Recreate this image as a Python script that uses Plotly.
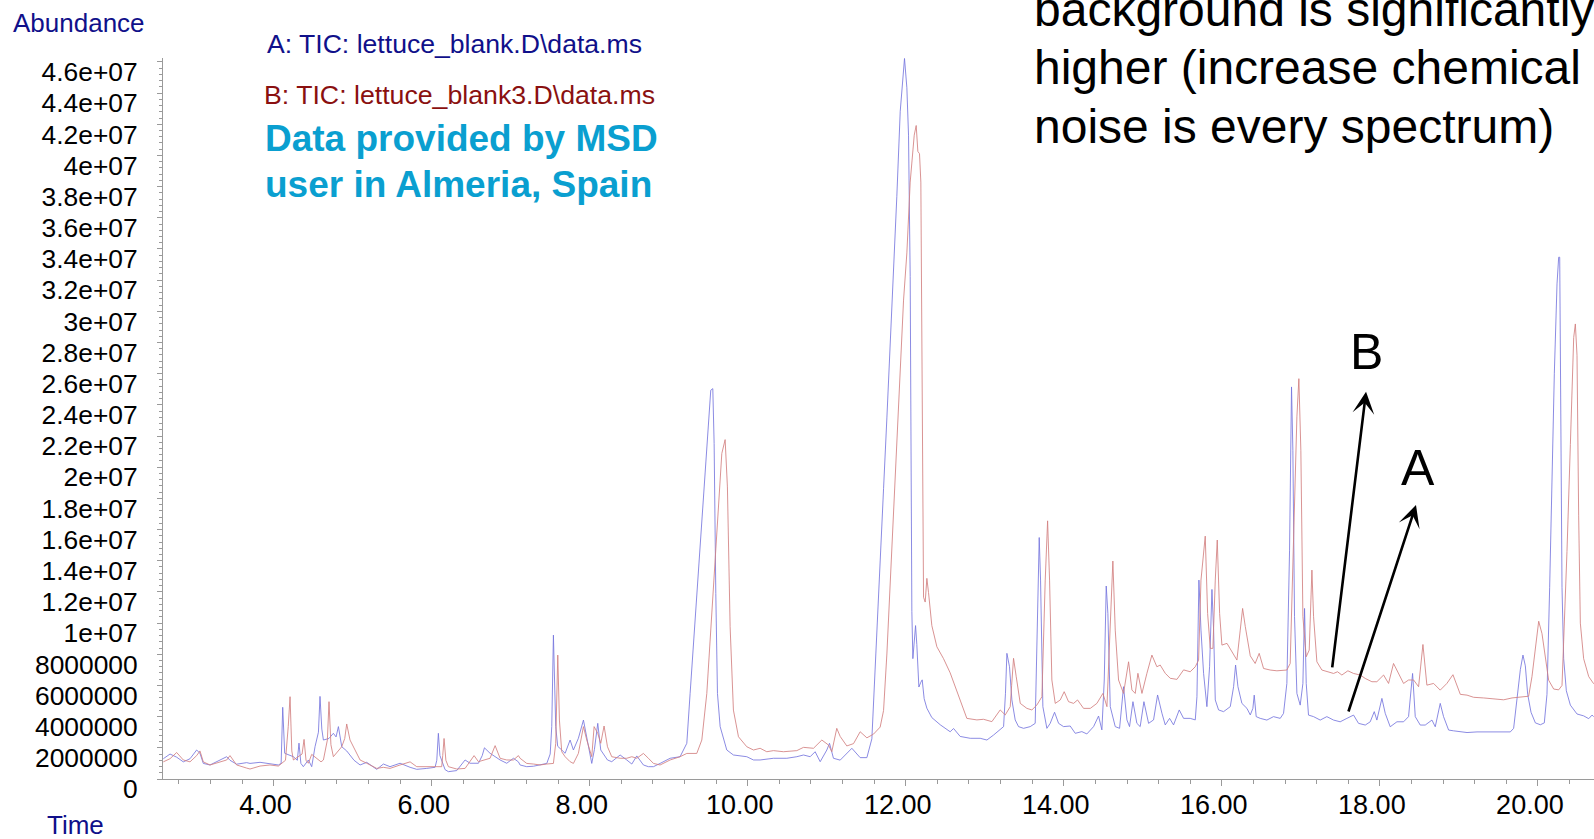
import plotly.graph_objects as go

# Retention time (min) and abundance (millions of counts) for run A: lettuce_blank
time_a = [
    2.604, 2.689, 2.773, 2.857, 2.942, 3.026, 3.068, 3.110, 3.195, 3.279,
    3.406, 3.448, 3.532, 3.659, 3.701, 3.828, 3.954, 4.060, 4.095, 4.115,
    4.140, 4.250, 4.300, 4.321, 4.345, 4.376, 4.440, 4.482, 4.524, 4.567,
    4.587, 4.610, 4.630, 4.700, 4.756, 4.790, 4.820, 4.862, 4.925, 4.967,
    5.018, 5.094, 5.178, 5.305, 5.389, 5.473, 5.600, 5.727, 5.811, 5.938,
    6.043, 6.065, 6.085, 6.105, 6.127, 6.170, 6.212, 6.317, 6.423, 6.486,
    6.592, 6.640, 6.668, 6.739, 6.866, 6.950, 7.035, 7.098,
    7.119, 7.203, 7.288, 7.372, 7.457, 7.500, 7.520, 7.541, 7.570, 7.595,
    7.617, 7.646, 7.689, 7.752, 7.794, 7.857, 7.921, 7.963, 8.026, 8.060,
    8.102, 8.140, 8.182, 8.225, 8.279, 8.385, 8.469, 8.533, 8.596, 8.680,
    8.743, 8.807, 8.891, 9.018, 9.144, 9.229, 9.271, 9.355, 9.440, 9.503,
    9.532, 9.558, 9.575, 9.596, 9.617, 9.651, 9.735, 9.819, 9.988, 10.073,
    10.157, 10.326, 10.495, 10.621, 10.706, 10.790, 10.853, 10.917, 11.001, 11.035,
    11.085, 11.170, 11.254, 11.318, 11.423, 11.508, 11.571, 11.592, 11.634, 11.676,
    11.719, 11.761, 11.803, 11.845, 11.887, 11.930, 11.972, 11.984, 12.014, 12.035,
    12.056, 12.065, 12.077, 12.090, 12.107, 12.124, 12.140, 12.166, 12.191, 12.208,
    12.233, 12.267, 12.330, 12.436, 12.562, 12.605, 12.689,
    12.773, 12.816, 12.942, 13.027, 13.111, 13.195, 13.238, 13.262, 13.280, 13.313,
    13.343, 13.385, 13.427, 13.491, 13.575, 13.638, 13.668, 13.689, 13.706, 13.735,
    13.786, 13.828, 13.883, 13.934, 13.997, 14.081, 14.145, 14.229, 14.292, 14.377,
    14.440, 14.482, 14.512, 14.537, 14.558, 14.588, 14.651, 14.706, 14.756, 14.799,
    14.832, 14.875, 14.925, 14.967, 15.014, 15.073, 15.136, 15.187, 15.242, 15.284,
    15.339, 15.389, 15.461, 15.516, 15.600, 15.664, 15.685, 15.710, 15.736, 15.769,
    15.811, 15.845, 15.875, 15.896, 15.917, 15.959, 16.022, 16.107, 16.149, 16.174,
    16.204, 16.254, 16.318, 16.360,
    16.393, 16.410, 16.435, 16.486, 16.570, 16.654, 16.739, 16.781, 16.823, 16.857,
    16.882, 16.899, 16.920, 16.950, 16.992, 17.026, 17.047, 17.068, 17.097, 17.161,
    17.245, 17.329, 17.414, 17.498, 17.583, 17.667, 17.730, 17.815, 17.878, 17.929,
    17.962, 18.026, 18.068, 18.131, 18.216, 18.300, 18.363, 18.414, 18.448, 18.511,
    18.574, 18.659, 18.701, 18.764, 18.806, 18.870,
    18.934, 19.018, 19.103, 19.229, 19.356, 19.482, 19.567, 19.651, 19.693, 19.735,
    19.778, 19.811, 19.841, 19.871, 19.913, 19.968, 20.031, 20.081, 20.115, 20.149,
    20.178, 20.208, 20.242, 20.263, 20.276, 20.292, 20.305, 20.326, 20.360, 20.411,
    20.495, 20.579, 20.643, 20.685, 20.706,
]
abund_a = [
    1.30, 1.60, 1.40, 1.10, 1.30, 1.86, 1.65, 1.00, 0.90, 1.10,
    1.43, 1.20, 0.95, 1.05, 1.00, 1.07, 1.00, 0.90, 1.00, 4.60,
    1.65, 1.43, 1.20, 2.30, 1.00, 0.79, 1.22, 0.79, 2.07, 3.00,
    5.30, 3.20, 2.50, 2.60, 2.93, 2.70, 3.36, 2.07, 1.80, 1.54,
    1.20, 0.90, 1.07, 0.62, 0.96, 0.79, 1.01, 0.75, 0.62, 0.68,
    0.75, 1.20, 2.93, 1.50, 1.22, 0.60, 0.47, 0.54, 1.22, 1.01,
    1.01, 1.50, 2.00, 1.65, 1.22, 1.01, 1.33, 1.10,
    0.90, 0.79, 0.82, 0.90, 1.00, 1.60, 3.36, 9.23, 3.36, 2.10,
    1.97, 1.86, 1.65, 2.50, 1.86, 2.61, 3.78, 2.71, 1.00, 1.90,
    3.57, 1.86, 1.50, 1.22, 1.11, 1.54, 1.22, 0.96, 1.48, 0.90,
    0.79, 0.79, 1.00, 1.33, 1.43, 2.29, 5.49, 11.90, 18.31, 22.59,
    24.94, 25.04, 21.52, 11.90, 5.49, 3.36, 1.86, 1.54, 1.43, 1.22,
    1.22, 1.33, 1.33, 1.43, 1.54, 1.43, 1.75, 1.11, 1.86, 2.29,
    1.33, 1.21, 1.67, 1.97, 1.37, 1.37, 2.58, 5.00, 9.54, 14.08,
    18.62, 23.16, 27.70, 32.24, 37.38, 42.83, 45.86, 46.22, 44.34, 41.30,
    32.24, 17.10, 10.75, 7.72, 8.63, 9.84, 8.63, 5.90, 6.21, 6.36,
    5.15, 4.54, 3.94, 3.48, 3.03, 3.24, 2.73,
    2.65, 2.61, 2.61, 2.50, 2.82, 3.15, 3.36, 5.50, 8.06, 7.20,
    5.07, 3.79, 3.36, 3.25, 3.36, 3.57, 10.20, 15.49, 12.76, 4.64,
    3.25, 3.57, 4.28, 3.57, 3.36, 3.40, 2.93, 3.04, 2.89, 3.36,
    4.04, 3.15, 6.35, 12.38, 10.62, 4.64, 3.36, 3.25, 5.92, 3.79,
    3.36, 4.96, 3.57, 3.36, 4.96, 3.57, 3.79, 5.39, 4.22, 3.47,
    3.89, 3.47, 4.43, 3.89, 3.89, 3.79, 5.28, 12.76, 9.55, 6.78,
    4.64, 7.20, 12.16, 9.55, 5.07, 4.43, 4.32, 4.64, 5.92, 7.31,
    5.92, 4.85, 4.53, 4.11,
    4.53, 5.38, 4.00, 3.89, 3.78, 4.00, 3.89, 4.21, 6.13, 14.68,
    25.15, 21.09, 10.41, 5.49, 4.74, 6.13, 10.94, 6.13, 4.10, 4.00,
    3.78, 4.00, 3.78, 3.67, 3.89, 4.10, 3.57, 3.46, 3.67, 4.32,
    3.78, 5.17, 4.21, 3.35, 3.67, 3.67, 4.00, 6.77, 4.00, 3.46,
    3.46, 3.78, 3.35, 4.85, 4.00, 3.14,
    3.09, 3.02, 2.98, 3.02, 3.02, 2.98, 3.02, 3.02, 3.25, 4.97,
    7.03, 7.95, 7.26, 5.43, 4.28, 3.60, 3.48, 3.60, 5.43, 12.30,
    19.16, 26.03, 31.76, 33.47, 33.47, 23.74, 12.30, 7.72, 5.66, 4.74,
    4.17, 4.05, 3.87, 4.10, 4.00,
]

# Retention time (min) and abundance (millions of counts) for run B: lettuce_blank3
time_b = [
    2.604, 2.689, 2.773, 2.857, 2.942, 3.026, 3.068, 3.110, 3.195, 3.279,
    3.406, 3.448, 3.532, 3.659, 3.701, 3.828, 3.954, 4.060, 4.150, 4.185,
    4.208, 4.230, 4.250, 4.360, 4.385, 4.410, 4.440, 4.482, 4.600, 4.630,
    4.680, 4.701, 4.725, 4.756, 4.862, 4.900, 4.925, 4.967, 5.018, 5.060,
    5.094, 5.178, 5.305, 5.389, 5.473, 5.600, 5.727, 5.811, 5.938, 6.043,
    6.127, 6.140, 6.157, 6.180, 6.212, 6.317, 6.423, 6.537, 6.592, 6.739,
    6.803, 6.866, 6.950, 7.035, 7.098,
    7.119, 7.203, 7.288, 7.372, 7.457, 7.541, 7.570, 7.596, 7.617, 7.646,
    7.689, 7.752, 7.794, 7.857, 7.921, 7.963, 8.026, 8.056, 8.102, 8.140,
    8.182, 8.225, 8.279, 8.385, 8.469, 8.533, 8.596, 8.680, 8.743, 8.807,
    8.891, 9.018, 9.144, 9.229, 9.355, 9.419, 9.482, 9.545, 9.608, 9.672,
    9.714, 9.743, 9.777, 9.819, 9.883, 9.988, 10.073, 10.157, 10.241, 10.326,
    10.452, 10.621, 10.706, 10.832, 10.938, 11.022, 11.064, 11.127,
    11.170, 11.254, 11.339, 11.423, 11.508, 11.592, 11.676, 11.719, 11.761, 11.803,
    11.845, 11.887, 11.930, 11.972, 12.014, 12.056, 12.107, 12.132, 12.153, 12.174,
    12.191, 12.204, 12.216, 12.225, 12.246, 12.267, 12.288, 12.330, 12.394, 12.478,
    12.562, 12.647, 12.731,
    12.773, 12.900, 12.984, 13.090, 13.195, 13.259, 13.322, 13.340, 13.364, 13.398,
    13.449, 13.533, 13.596, 13.660, 13.723, 13.765, 13.795, 13.820, 13.849, 13.892,
    13.955, 14.005, 14.060, 14.124, 14.174, 14.250, 14.335, 14.419, 14.495, 14.546,
    14.588, 14.621, 14.651, 14.693, 14.756, 14.820, 14.862, 14.904, 14.938, 14.989,
    15.052, 15.115, 15.178, 15.220, 15.284, 15.347, 15.432, 15.516, 15.600, 15.664,
    15.706, 15.736, 15.790, 15.820, 15.854, 15.887, 15.917, 15.942, 15.972, 16.001,
    16.065, 16.128, 16.191, 16.233, 16.263, 16.297, 16.360,
    16.422, 16.473, 16.528, 16.612, 16.697, 16.823, 16.865, 16.908, 16.950, 16.975,
    17.000, 17.026, 17.068, 17.106, 17.140, 17.161, 17.203, 17.266, 17.351, 17.414,
    17.464, 17.519, 17.595, 17.667, 17.751, 17.815, 17.899, 17.962, 18.047, 18.110,
    18.173, 18.237, 18.300, 18.363, 18.427, 18.490, 18.545, 18.595, 18.680, 18.764,
    18.848, 18.925, 18.976, 19.018, 19.103, 19.187, 19.314, 19.440, 19.567, 19.672,
    19.778, 19.883, 19.925, 19.976, 20.010, 20.052, 20.094, 20.136, 20.200, 20.263,
    20.305, 20.335, 20.368, 20.411, 20.453, 20.474, 20.495, 20.516, 20.537, 20.579,
    20.643, 20.706,
]
abund_b = [
    1.10, 1.30, 1.70, 1.22, 1.10, 1.50, 1.80, 1.10, 0.90, 1.01,
    1.22, 1.50, 0.90, 0.70, 0.64, 0.83, 0.90, 0.83, 1.20, 3.36,
    5.28, 1.80, 1.22, 1.60, 2.54, 1.20, 1.01, 1.58, 1.10, 1.22,
    2.50, 4.96, 2.20, 1.43, 2.07, 2.60, 3.53, 2.50, 1.97, 1.60,
    1.22, 1.01, 0.68, 0.75, 0.68, 0.90, 1.10, 0.79, 0.79, 0.75,
    0.79, 1.50, 2.60, 1.20, 0.79, 0.64, 0.68, 1.50, 1.11, 1.33,
    2.14, 1.33, 1.22, 1.22, 1.50,
    1.33, 1.00, 0.96, 0.90, 0.96, 1.00, 2.29, 7.95, 3.78, 1.75,
    1.43, 1.11, 1.00, 1.64, 3.36, 2.50, 1.43, 3.36, 2.93, 2.29,
    3.40, 2.07, 1.43, 1.33, 1.33, 1.43, 1.33, 1.64, 1.33, 1.00,
    0.90, 1.22, 1.43, 1.64, 1.64, 2.50, 5.49, 10.83, 16.18, 20.88,
    21.77, 18.74, 9.77, 4.42, 2.71, 2.07, 1.86, 1.97, 1.75, 1.82,
    1.75, 1.82, 2.03, 1.97, 2.50, 2.18, 1.75, 3.25,
    2.73, 2.12, 2.27, 3.03, 2.64, 2.88, 3.33, 4.39, 8.02, 12.56,
    17.10, 21.64, 26.18, 30.72, 33.75, 38.29, 41.30, 41.92, 40.26, 40.11,
    38.29, 29.21, 17.10, 11.66, 11.35, 12.87, 11.96, 9.84, 8.48, 7.72,
    6.81, 5.60, 4.39,
    3.89, 3.79, 3.83, 3.68, 4.43, 4.11, 4.64, 6.00, 7.74, 6.56,
    4.85, 4.53, 4.43, 4.75, 5.28, 12.76, 16.56, 12.76, 6.35, 4.85,
    5.07, 5.60, 4.96, 4.85, 5.07, 4.53, 4.53, 4.85, 5.49, 4.64,
    10.62, 13.98, 9.55, 6.35, 5.49, 7.52, 5.71, 5.49, 6.78, 5.49,
    6.78, 7.95, 7.20, 7.31, 6.78, 6.46, 6.39, 7.00, 6.88, 7.20,
    7.63, 12.76, 15.58, 10.62, 8.38, 8.38, 12.76, 15.33, 10.62, 8.59,
    8.70, 8.17, 7.63, 9.55, 10.94, 9.77, 7.90,
    7.41, 8.06, 7.09, 6.99, 6.94, 6.99, 7.41, 14.68, 23.23, 25.68,
    21.09, 10.41, 7.84, 8.27, 13.40, 10.41, 7.52, 6.99, 6.88, 6.77,
    6.88, 6.67, 6.94, 6.77, 6.67, 6.45, 6.24, 6.24, 6.67, 6.13,
    7.41, 6.77, 6.13, 6.35, 6.35, 5.92, 8.63, 6.02, 6.13, 5.70,
    6.13, 6.69, 6.00, 5.43, 5.38, 5.24, 5.20, 5.15, 5.08, 5.20,
    5.24, 5.31, 6.57, 8.86, 10.12, 9.32, 7.72, 6.34, 5.77, 5.72,
    6.00, 10.00, 14.59, 21.45, 28.32, 29.19, 27.18, 16.88, 10.00, 7.72,
    6.57, 6.11,
]

# Axis ticks
x_tick_vals = [4, 6, 8, 10, 12, 14, 16, 18, 20]
x_tick_text = ["4.00", "6.00", "8.00", "10.00", "12.00", "14.00", "16.00", "18.00", "20.00"]
y_tick_vals = [0, 2, 4, 6, 8, 10, 12, 14, 16, 18, 20, 22, 24, 26, 28, 30,
               32, 34, 36, 38, 40, 42, 44, 46]
y_tick_text = ["0", "2000000", "4000000", "6000000", "8000000", "1e+07",
               "1.2e+07", "1.4e+07", "1.6e+07", "1.8e+07", "2e+07", "2.2e+07",
               "2.4e+07", "2.6e+07", "2.8e+07", "3e+07", "3.2e+07", "3.4e+07",
               "3.6e+07", "3.8e+07", "4e+07", "4.2e+07", "4.4e+07", "4.6e+07"]

FONT = "Liberation Sans, Arial, sans-serif"
NAVY = "#10108a"
MAROON = "#8a1010"
CYAN = "#0a9fd0"
AXIS = "#9a9a9a"

fig = go.Figure()
fig.add_trace(go.Scatter(x=time_a, y=abund_a, mode="lines",
                         line=dict(color="rgb(118,118,222)", width=0.85),
                         name="A", hoverinfo="x+y"))
fig.add_trace(go.Scatter(x=time_b, y=abund_b, mode="lines",
                         line=dict(color="rgb(210,128,128)", width=0.85),
                         name="B", hoverinfo="x+y"))

fig.update_layout(
    width=1594, height=839,
    margin=dict(l=163, r=0, t=58, b=60, autoexpand=False),
    paper_bgcolor="white", plot_bgcolor="white",
    showlegend=False,
    font=dict(family=FONT, color="black", size=26),
    xaxis=dict(
        range=[2.6, 20.71], showgrid=False, zeroline=False, automargin=False,
        showline=True, linecolor=AXIS, linewidth=1,
        tickmode="array", tickvals=x_tick_vals, ticktext=x_tick_text,
        ticks="outside", ticklen=6, tickcolor=AXIS, tickwidth=1,
        ticklabelshift=-8, ticklabelstandoff=-4,
        tickfont=dict(size=27, family=FONT, color="black"),
        minor=dict(tickmode="linear", tick0=0, dtick=0.4, ticks="outside",
                   ticklen=4, tickcolor=AXIS, tickwidth=1, showgrid=False),
    ),
    yaxis=dict(
        range=[0, 46.25], showgrid=False, zeroline=False, automargin=False,
        showline=True, linecolor=AXIS, linewidth=1,
        tickmode="array", tickvals=y_tick_vals, ticktext=y_tick_text,
        ticks="outside", ticklen=5, tickcolor=AXIS, tickwidth=1,
        ticklabelshift=10, ticklabelstandoff=14,
        tickfont=dict(size=26.4, family=FONT, color="black"),
        minor=dict(tickmode="linear", tick0=0, dtick=0.4, ticks="outside",
                   ticklen=3, tickcolor=AXIS, tickwidth=1, showgrid=False),
    ),
)

def label(text, x, y, size, color, xanchor="left", bold=False):
    fig.add_annotation(
        text=f"<b>{text}</b>" if bold else text,
        x=x, y=y, xref="paper", yref="paper",
        xanchor=xanchor, yanchor="middle", showarrow=False,
        font=dict(family=FONT, size=size, color=color),
    )

# Axis titles
label("Abundance", -0.0587, 1.0479, 26, NAVY, xanchor="center")
label("Time", -0.0608, -0.0640, 26, NAVY, xanchor="center")

# Run identifiers
label("A: TIC: lettuce_blank.D\\data.ms", 0.0713, 1.0194, 26.6, NAVY)
label("B: TIC: lettuce_blank3.D\\data.ms", 0.0692, 0.948, 26.7, MAROON)
label("Data provided by MSD", 0.0699, 0.8877, 37, CYAN, bold=True)
label("user in Almeria, Spain", 0.0699, 0.8252, 37, CYAN, bold=True)

# Comment on the raised background
label("background is significantly", 0.6073, 1.0675, 48, "black")
label("higher (increase chemical", 0.6073, 0.9864, 48, "black")
label("noise is every spectrum)", 0.6073, 0.9055, 48, "black")

# Trace markers with arrows
label("B", 0.8407, 0.5929, 50, "black", xanchor="center")
label("A", 0.8770, 0.4308, 50, "black", xanchor="center")
for tip_x, tip_y, dx, dy in [(0.8407, 0.5370, -34, 277), (0.8756, 0.3800, -68, 208)]:
    fig.add_annotation(
        x=tip_x, y=tip_y, xref="paper", yref="paper",
        ax=dx, ay=dy, axref="pixel", ayref="pixel",
        text="", showarrow=True, arrowhead=3, arrowsize=1.4,
        arrowwidth=2.6, arrowcolor="black", standoff=0,
    )

fig.write_html("out.html")
